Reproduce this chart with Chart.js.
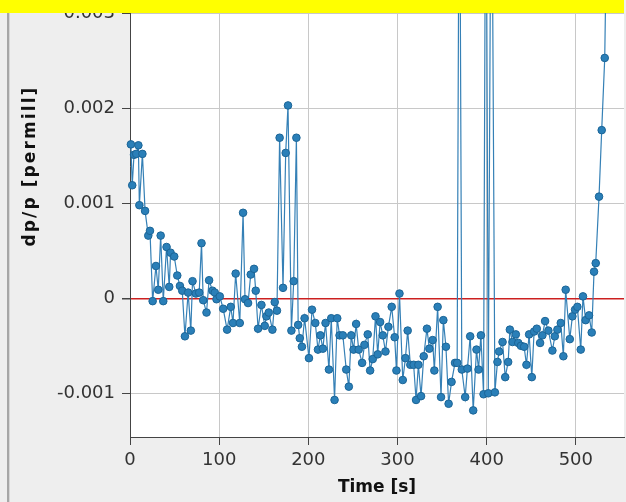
<!DOCTYPE html>
<html><head><meta charset="utf-8">
<script src="https://cdn.jsdelivr.net/npm/chart.js@4"></script>
<style>
html,body{margin:0;padding:0;background:#eeeeee;overflow:hidden;width:626px;height:502px;}
#wrap{position:absolute;left:0;top:0;width:626px;height:502px;overflow:hidden;background:#eeeeee;}
#c{position:absolute;left:0;top:-120px;width:629px;height:622px;}
#strip{position:absolute;left:7px;top:0;width:2px;height:502px;background:#a6a6a6;}
#strip2{position:absolute;left:9px;top:0;width:1px;height:502px;background:#d6d6d6;}
#yellow{position:absolute;left:0;top:0;width:624px;height:13px;background:#ffff00;}
</style></head>
<body><div id="wrap"><canvas id="c" width="629" height="622"></canvas><div id="strip"></div><div id="strip2"></div><div id="yellow"></div></div>
<script>
const times = [1.0,2.5,4.5,7.0,9.4,10.5,13.9,16.9,20.5,22.4,25.4,29.1,31.7,34.4,37.3,41.0,44.0,45.5,49.6,53.0,56.0,58.6,61.6,65.2,68.2,70.1,73.9,77.6,80.2,82.1,85.8,88.7,92.5,95.1,97.0,100.7,104.5,108.9,113.0,115.5,118.5,123.1,126.8,129.0,132.4,135.4,139.1,141.0,143.6,147.4,151.1,153.0,155.6,159.7,162.3,164.8,167.8,171.6,174.6,177.2,181.0,183.6,186.6,188.6,190.4,192.8,195.8,200.7,204.1,207.8,210.8,213.5,216.3,219.3,223.1,225.7,229.4,232.4,235.0,238.7,242.5,245.4,248.1,250.7,253.6,256.5,260.3,262.9,266.6,269.3,272.2,275.3,277.8,280.5,283.5,286.5,289.8,293.5,296.8,298.8,302.2,305.9,308.9,311.4,314.4,318.1,320.8,323.4,326.4,329.4,333.0,335.7,339.4,341.3,345.0,348.8,351.4,354.3,357.3,360.6,364.5,366.9,369.4,372.1,375.9,378.4,381.5,384.9,388.6,390.9,393.5,396.5,399.1,401.8,405.3,409.2,412.1,414.0,417.8,420.8,424.1,426.0,429.0,432.7,435.4,438.4,442.0,444.6,447.6,450.6,453.2,456.2,459.9,462.5,465.5,469.2,473.7,476.4,479.3,483.1,486.0,488.6,493.2,496.1,499.1,501.7,505.5,508.0,511.0,514.8,517.8,520.4,522.3,526.0,529.0,532.4,535.6];
const dpp = [0.00162,0.00119,0.00151,0.00152,0.00161,0.00098,0.00152,0.00092,0.00066,0.00071,-0.00003,0.00034,0.00009,0.00066,-0.00003,0.00054,0.00012,0.00048,0.00044,0.00024,0.00013,0.00008,-0.00040,0.00006,-0.00034,0.00018,0.00005,0.00006,0.00058,-0.00002,-0.00015,0.00019,0.00008,0.00006,-0.00001,0.00002,-0.00011,-0.00033,-0.00009,-0.00026,0.00026,-0.00026,0.00090,-0.00001,-0.00005,0.00025,0.00031,0.00008,-0.00032,-0.00007,-0.00029,-0.00019,-0.00015,-0.00033,-0.00004,-0.00013,0.00169,0.00011,0.00153,0.00203,-0.00034,0.00018,0.00169,-0.00028,-0.00042,-0.00051,-0.00021,-0.00063,-0.00012,-0.00026,-0.00054,-0.00039,-0.00053,-0.00026,-0.00075,-0.00021,-0.00107,-0.00021,-0.00039,-0.00039,-0.00075,-0.00093,-0.00039,-0.00054,-0.00027,-0.00054,-0.00068,-0.00049,-0.00038,-0.00076,-0.00064,-0.00019,-0.00059,-0.00025,-0.00039,-0.00056,-0.00030,-0.00009,-0.00041,-0.00076,0.00005,-0.00086,-0.00063,-0.00034,-0.00070,-0.00070,-0.00107,-0.00070,-0.00103,-0.00061,-0.00032,-0.00053,-0.00044,-0.00076,-0.00009,-0.00104,-0.00023,-0.00051,-0.00111,-0.00088,-0.00068,-0.00068,0.00550,-0.00075,-0.00104,-0.00074,-0.00040,-0.00118,-0.00054,-0.00075,-0.00039,-0.00101,0.00550,-0.00100,0.00550,-0.00099,-0.00067,-0.00056,-0.00046,-0.00083,-0.00067,-0.00033,-0.00046,-0.00038,-0.00047,-0.00050,-0.00051,-0.00070,-0.00038,-0.00083,-0.00035,-0.00032,-0.00047,-0.00039,-0.00024,-0.00034,-0.00055,-0.00040,-0.00033,-0.00026,-0.00061,0.00009,-0.00043,-0.00019,-0.00012,-0.00009,-0.00054,0.00002,-0.00023,-0.00018,-0.00036,0.00028,0.00037,0.00107,0.00177,0.00253,0.00460];
const xTicks = [0,100,200,300,400,500];
const xTickLabels = ['0','100','200','300','400','500'];
const yTicks = [-0.001,0,0.001,0.002,0.003,0.004];
const yTickLabels = ['-0.001','0','0.001','0.002','0.003','0.004'];

const bgPlugin = {
  id:'bg',
  beforeDraw(chart){
    const {ctx, chartArea:a} = chart;
    ctx.save(); ctx.fillStyle='#eeeeee'; ctx.fillRect(0,0,chart.width,chart.height);
    ctx.fillStyle='#ffffff'; ctx.fillRect(a.left,a.top,a.right-a.left,a.bottom-a.top); ctx.restore();
    const s = chart.scales.y;
    if (s && !s._spPatched){
      const orig = s.drawTitle;
      s.drawTitle = function(){ const c=this.ctx; c.save(); c.letterSpacing='2.1px'; orig.apply(this, arguments); c.restore(); };
      s._spPatched = true;
    }
  }
};

new Chart(document.getElementById('c'), {
  type:'scatter',
  data:{datasets:[{
    data: times.map((t,i)=>({x:t,y:dpp[i]})),
    showLine:true, borderColor:'#3580b6', borderWidth:1.2,
    pointRadius:3.8, pointBackgroundColor:'#2a7fb8', pointBorderColor:'#1b6597', pointBorderWidth:1,
    clip:false
  }]},
  options:{
    responsive:false, animation:false, devicePixelRatio:1,
    layout:{padding:{top:15,left:0,right:1,bottom:0}},
    plugins:{legend:{display:false}, tooltip:{enabled:false}},
    scales:{
      x:{type:'linear', min:0, max:554,
        afterBuildTicks:s=>{ s.ticks = xTicks.map(v=>({value:v})); },
        afterFit:s=>{ s.height=65; s.paddingLeft=0; s.paddingRight=0; },
        grid:{color:'#c8c8c8', lineWidth:1, tickLength:8, tickColor:'#444'},
        border:{display:true, color:'#444', width:1},
        ticks:{font:{family:'DejaVu Sans', size:18}, color:'#333', padding:5, maxRotation:0, autoSkip:false,
          callback:(v)=>xTickLabels[xTicks.indexOf(v)]},
        title:{display:true, text:'Time [s]', font:{family:'DejaVu Sans', size:17, weight:'bold'}, color:'#111', padding:{top:0,bottom:4}}
      },
      y:{type:'linear', min:-0.00146, max:0.004245,
        afterBuildTicks:s=>{ s.ticks = yTicks.map(v=>({value:v})); },
        afterFit:s=>{ s.width=130; s.paddingTop=0; s.paddingBottom=0; },
        grid:{color:c=>(c.tick && c.tick.value===0)?'#cc2020':'#c8c8c8', lineWidth:c=>(c.tick && c.tick.value===0)?1.5:1, tickLength:8, tickColor:'#444'},
        border:{display:true, color:'#444', width:1},
        ticks:{font:{family:'DejaVu Sans', size:18}, color:'#333', padding:7, autoSkip:false,
          callback:(v)=>yTickLabels[yTicks.indexOf(v)]},
        title:{display:true, text:'dp/p [permill]', font:{family:'DejaVu Sans', size:17, weight:'bold'}, color:'#111', padding:{top:20,bottom:0}}
      }
    }
  },
  plugins:[bgPlugin]
});
</script>
</body></html>
